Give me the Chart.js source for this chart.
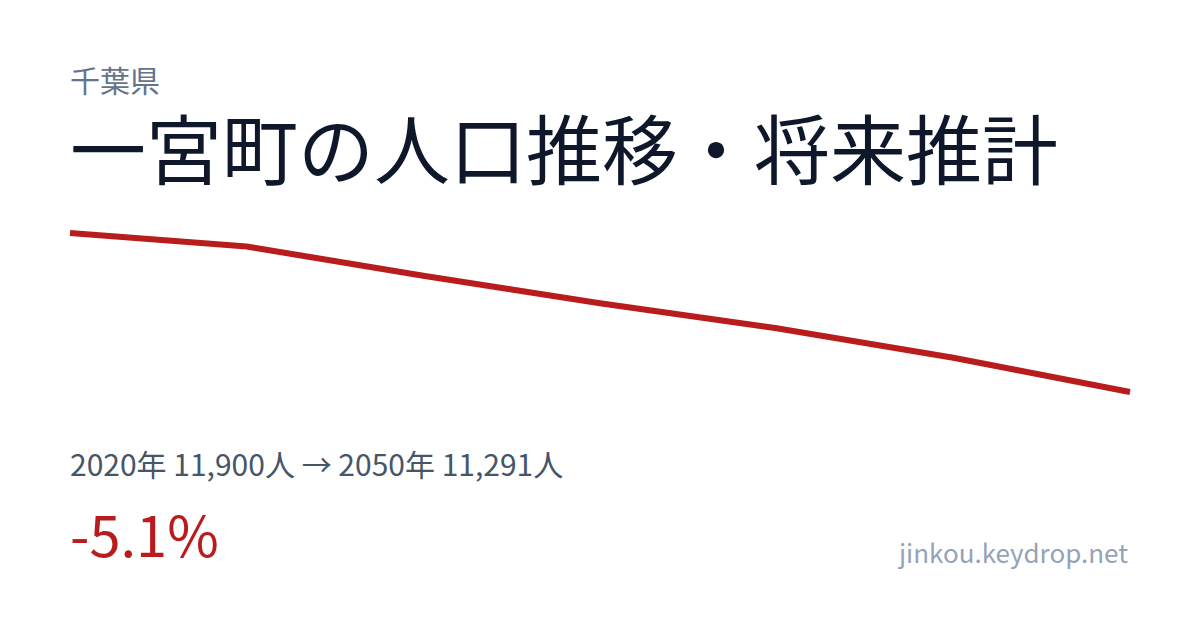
<!DOCTYPE html>
<html lang="ja">
<head>
<meta charset="utf-8">
<script src="https://cdn.jsdelivr.net/npm/chart.js@4.4.1/dist/chart.umd.min.js"></script>
<style>
  html, body {
    margin: 0;
    padding: 0;
    background: #ffffff;
  }
  body {
    width: 1200px;
    height: 630px;
    position: relative;
    overflow: hidden;
    font-family: "Noto Sans CJK JP", "Noto Sans", sans-serif;
  }
  .pref {
    position: absolute;
    left: 70px;
    top: 64px;
    font-size: 30px;
    line-height: 1;
    color: #64748b;
  }
  .title {
    position: absolute;
    left: 70px;
    top: 108px;
    font-size: 76px;
    line-height: 1;
    color: #0f172a;
    white-space: nowrap;
  }
  .chart-box {
    position: absolute;
    left: 60px;
    top: 220px;
    width: 1080px;
    height: 185px;
  }
  .stats {
    position: absolute;
    left: 70px;
    top: 448px;
    font-size: 30px;
    line-height: 1;
    color: #475569;
    white-space: nowrap;
  }
  .change {
    position: absolute;
    left: 70px;
    top: 505px;
    font-size: 56px;
    line-height: 1;
    color: #b91c1c;
  }
  .site {
    position: absolute;
    right: 72px;
    top: 539px;
    font-size: 26px;
    line-height: 1;
    color: #94a3b8;
  }
</style>
</head>
<body>
<div class="pref">千葉県</div>
<div class="title">一宮町の人口推移・将来推計</div>
<div class="chart-box"><canvas id="popChart"></canvas></div>
<div class="stats">2020年 11,900人 → 2050年 11,291人</div>
<div class="change">-5.1%</div>
<div class="site">jinkou.keydrop.net</div>

<script>
const years = ['2020', '2025', '2030', '2035', '2040', '2045', '2050'];
const population = [11900, 11848, 11736, 11631, 11535, 11422, 11291];

const ctx = document.getElementById('popChart').getContext('2d');
new Chart(ctx, {
  type: 'line',
  data: {
    labels: years,
    datasets: [{
      label: '人口',
      data: population,
      borderColor: '#b91c1c',
      borderWidth: 6,
      pointRadius: 0,
      tension: 0,
      fill: false,
      clip: false
    }]
  },
  options: {
    responsive: true,
    maintainAspectRatio: false,
    animation: false,
    layout: {
      padding: { left: 10, right: 10, top: 13, bottom: 13 }
    },
    plugins: {
      legend: { display: false },
      tooltip: { enabled: false }
    },
    scales: {
      x: {
        display: false,
        offset: false
      },
      y: {
        display: false,
        min: Math.min(...population),
        max: Math.max(...population)
      }
    }
  }
});
</script>
</body>
</html>
